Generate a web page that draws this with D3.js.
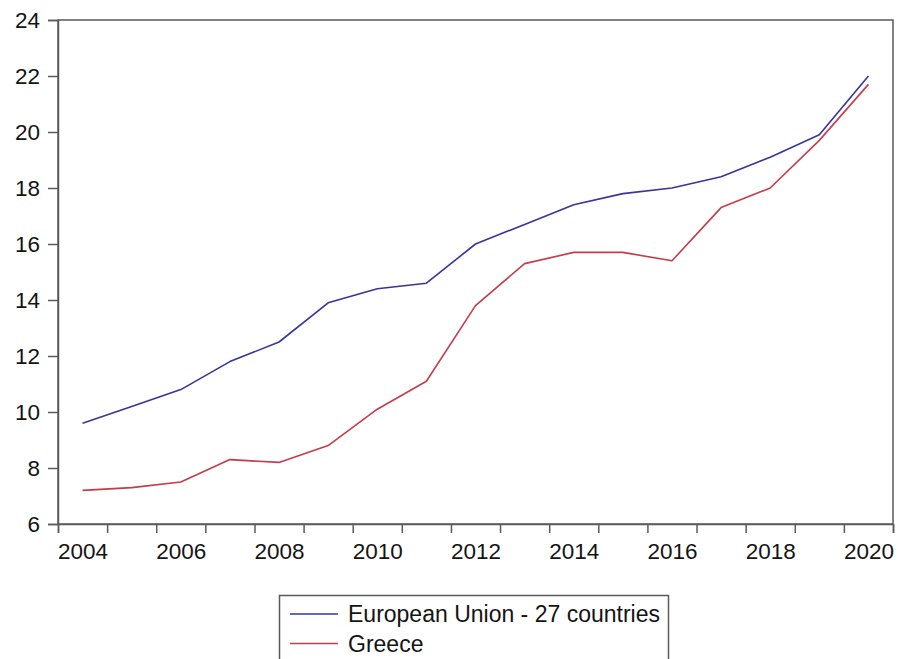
<!DOCTYPE html>
<html>
<head>
<meta charset="utf-8">
<script src="https://cdn.jsdelivr.net/npm/d3@7"></script>
<style>
  body { margin: 0; background: #fff; }
  svg { display: block; font-family: "Liberation Sans", Arial, sans-serif; }
</style>
</head>
<body>
<div id="chart"></div>
<script>
const years = [2004, 2005, 2006, 2007, 2008, 2009, 2010, 2011, 2012, 2013, 2014, 2015, 2016, 2017, 2018, 2019, 2020];
const euValues = [9.6, 10.2, 10.8, 11.8, 12.5, 13.9, 14.4, 14.6, 16.0, 16.7, 17.4, 17.8, 18.0, 18.4, 19.1, 19.9, 22.0];
const greeceValues = [7.2, 7.3, 7.5, 8.3, 8.2, 8.8, 10.1, 11.1, 13.8, 15.3, 15.7, 15.7, 15.4, 17.3, 18.0, 19.7, 21.7];
const yTicks = [6, 8, 10, 12, 14, 16, 18, 20, 22, 24];
const xLabels = [2004, 2006, 2008, 2010, 2012, 2014, 2016, 2018, 2020];
const seriesNames = ['European Union - 27 countries', 'Greece'];

const width = 898, height = 659;
const plot = { left: 58, right: 893, top: 20, bottom: 524 };
const colors = ['#36369a', '#c43c4a'];

const svg = d3.select('#chart').append('svg')
  .attr('width', width)
  .attr('height', height);

const x = d3.scaleLinear()
  .domain([years[0] - 0.5, years[years.length - 1] + 0.5])
  .range([plot.left, plot.right]);

const y = d3.scaleLinear()
  .domain([6, 24])
  .range([plot.bottom, plot.top]);

// frame
svg.append('rect')
  .attr('x', plot.left)
  .attr('y', plot.top)
  .attr('width', plot.right - plot.left)
  .attr('height', plot.bottom - plot.top)
  .attr('fill', 'none')
  .attr('stroke', '#5a5a5a')
  .attr('stroke-width', 1.5);

// y axis
const yAxis = svg.append('g')
  .attr('transform', `translate(${plot.left},0)`)
  .call(d3.axisLeft(y).tickValues(yTicks).tickSize(10).tickPadding(8).tickFormat(d3.format('d')));

// x axis: ticks at year boundaries
const bounds = years.map(d => d - 0.5).concat([years[years.length - 1] + 0.5]);
const xAxis = svg.append('g')
  .attr('transform', `translate(0,${plot.bottom})`)
  .call(d3.axisBottom(x).tickValues(bounds).tickSize(9).tickFormat(''));

// x labels centred on each year
const xLab = svg.append('g')
  .attr('transform', `translate(0,${plot.bottom})`)
  .call(d3.axisBottom(x).tickValues(xLabels).tickSize(0).tickPadding(19).tickFormat(d3.format('d')));

[yAxis, xAxis, xLab].forEach(g => {
  g.select('.domain').attr('stroke', '#5a5a5a').attr('stroke-width', 1.5);
  g.selectAll('.tick line').attr('stroke', '#5a5a5a').attr('stroke-width', 1.5);
  g.selectAll('.tick text')
    .attr('fill', '#141414')
    .style('font-size', '22.5px')
    .style('font-family', '"Liberation Sans", Arial, sans-serif');
});
xLab.select('.domain').remove();

// series lines
const line = d3.line()
  .x((d, i) => x(years[i]))
  .y(d => y(d));

[euValues, greeceValues].forEach((vals, i) => {
  svg.append('path')
    .datum(vals)
    .attr('fill', 'none')
    .attr('stroke', colors[i])
    .attr('stroke-width', 1.6)
    .attr('stroke-linejoin', 'round')
    .attr('d', line);
});

// legend
const legend = svg.append('g');
legend.append('rect')
  .attr('x', 279.5)
  .attr('y', 595.5)
  .attr('width', 389)
  .attr('height', 120)
  .attr('fill', '#fff')
  .attr('stroke', '#5a5a5a')
  .attr('stroke-width', 1.5);

const items = legend.selectAll('g.item')
  .data(seriesNames)
  .join('g')
  .attr('class', 'item')
  .attr('transform', (d, i) => `translate(0,${614 + i * 29.5})`);

items.append('line')
  .attr('x1', 290)
  .attr('x2', 338)
  .attr('stroke', (d, i) => colors[i])
  .attr('stroke-width', 1.3);

items.append('text')
  .attr('x', 348)
  .attr('y', 8)
  .attr('fill', '#141414')
  .style('font-size', '23px')
  .text(d => d);
</script>
</body>
</html>
